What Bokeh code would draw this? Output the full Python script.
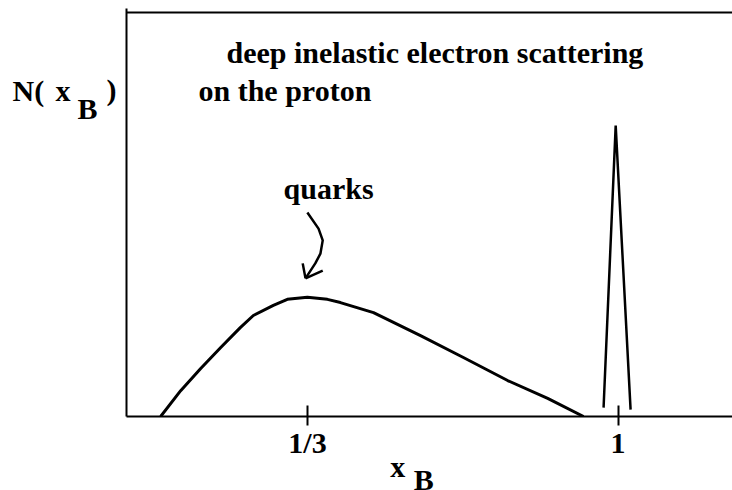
from bokeh.plotting import figure
from bokeh.layouts import row, column
from bokeh.models import Range1d, FixedTicker, Label
from bokeh.embed import file_html
from bokeh.resources import INLINE

# Quark distribution N(x_B) in deep inelastic scattering on the proton
quark_x = [0.018, 0.061, 0.104, 0.147, 0.189, 0.217, 0.260, 0.290, 0.333,
           0.376, 0.404, 0.475, 0.576, 0.668, 0.763, 0.849, 0.926]
quark_n = [0.000, 0.064, 0.119, 0.171, 0.220, 0.250, 0.275, 0.290, 0.295,
           0.290, 0.282, 0.257, 0.200, 0.146, 0.089, 0.045, 0.000]

# Elastic peak at x_B = 1
peak_x = [0.969, 0.995, 1.027]
peak_n = [0.022, 0.720, 0.017]

# Hand-drawn arrow pointing at the quark bump
arrow_x = [0.333, 0.357, 0.366, 0.361, 0.350, 0.329]
arrow_n = [0.505, 0.465, 0.436, 0.403, 0.379, 0.342]
head_xs = [[0.323, 0.329], [0.366, 0.329]]
head_ns = [[0.379, 0.342], [0.361, 0.342]]

tick_values = [1 / 3, 1]
tick_labels = ["1/3", "1"]

FONT = "Liberation Serif"
INK = "black"
SIZE = "30px"

W, H = 732, 490
LEFT_W = 116          # strip holding the vertical-axis caption
MAIN_H = 462          # main plot incl. tick labels; caption strip below

X0, X1 = -0.0553, 1.2458
Y0, Y1 = 0.0, 1.0099


def plain(fig):
    fig.grid.visible = False
    fig.outline_line_color = None
    fig.background_fill_color = "white"
    fig.border_fill_color = "white"
    return fig


def caption(fig, text, x, y):
    fig.add_layout(Label(x=x, y=y, text=text, text_font=FONT,
                         text_font_style="bold", text_font_size=SIZE,
                         text_color=INK, text_align="left",
                         text_baseline="alphabetic"))


# ---- main plot -------------------------------------------------------------
p = plain(figure(width=W - LEFT_W, height=MAIN_H, output_backend="svg",
                 toolbar_location=None,
                 x_range=Range1d(X0, X1), y_range=Range1d(Y0, Y1),
                 min_border_left=10, min_border_right=0,
                 min_border_top=8, min_border_bottom=46))

xa = p.xaxis[0]
xa.ticker = FixedTicker(ticks=tick_values)
xa.major_label_overrides = {v: s for v, s in zip(tick_values, tick_labels)}
xa.minor_tick_line_color = None
xa.axis_line_width = 2
xa.axis_line_color = INK
xa.major_tick_line_width = 2
xa.major_tick_line_color = INK
xa.major_tick_in = 11
xa.major_tick_out = 9
xa.major_label_standoff = 0
xa.major_label_text_font = FONT
xa.major_label_text_font_style = "bold"
xa.major_label_text_font_size = SIZE
xa.major_label_text_color = INK

ya = p.yaxis[0]
ya.ticker = FixedTicker(ticks=[])
ya.minor_tick_line_color = None
ya.major_tick_line_color = None
ya.major_tick_out = 0
ya.major_tick_in = 0
ya.major_label_standoff = 0
ya.major_label_text_color = None
ya.axis_line_width = 2
ya.axis_line_color = INK

# top edge of the box
p.line([X0, X1], [1, 1], line_width=2, line_color=INK)

p.line(quark_x, quark_n, line_width=3, line_color=INK, line_join="round")
p.line(peak_x, peak_n, line_width=2.5, line_color=INK)
p.line(arrow_x, arrow_n, line_width=2.5, line_color=INK, line_join="round")
p.multi_line(head_xs, head_ns, line_width=2.5, line_color=INK)


def px_x(px):
    return 1 / 3 + (px - 307) / 465.75


def px_y(py):
    return (416 - py) / 404


caption(p, "deep inelastic electron scattering", px_x(226), px_y(52))
caption(p, "on the proton", px_x(198), px_y(90))
caption(p, "quarks", px_x(283), px_y(188))

# ---- vertical-axis caption N( x_B ) -----------------------------------------
left = plain(figure(width=LEFT_W, height=H, output_backend="svg",
                    toolbar_location=None,
                    x_range=Range1d(0, LEFT_W), y_range=Range1d(H, 0),
                    x_axis_location=None, y_axis_location=None,
                    min_border=0))
caption(left, "N(", 12, 90)
caption(left, "x", 55, 90)
caption(left, "B", 77, 108)
caption(left, ")", 106, 89)

# ---- horizontal-axis caption x_B --------------------------------------------
bottom = plain(figure(width=W - LEFT_W, height=H - MAIN_H, output_backend="svg",
                      toolbar_location=None,
                      x_range=Range1d(LEFT_W, W), y_range=Range1d(H, MAIN_H),
                      x_axis_location=None, y_axis_location=None,
                      min_border=0))
caption(bottom, "x", 384, 466)
caption(bottom, "B", 408, 479)

layout = row(left, column(p, bottom, spacing=0), spacing=0)

open("out.html", "w").write(file_html(layout, INLINE))
